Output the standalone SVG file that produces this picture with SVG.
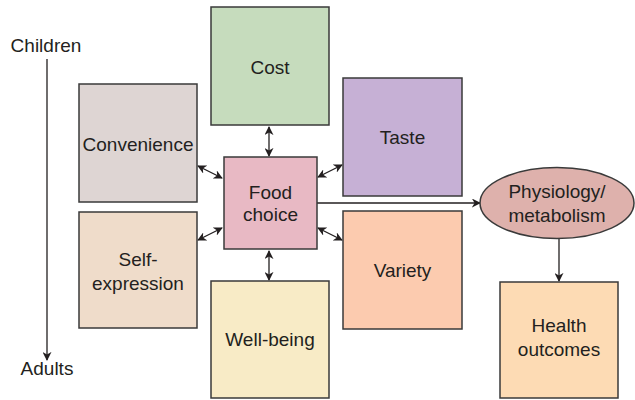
<svg xmlns="http://www.w3.org/2000/svg" width="635" height="400" viewBox="0 0 635 400">
<style>
.box{stroke:#3a3a3a;stroke-width:1.5}
.t{font-family:"Liberation Sans",Arial,sans-serif;font-size:19px;fill:#231f20;text-anchor:middle}
.c{stroke:#231f20;stroke-width:1.3;fill:none}
</style>
<defs>
<marker id="ah" viewBox="0 0 10 10" refX="9" refY="5" markerWidth="9" markerHeight="9" markerUnits="userSpaceOnUse" orient="auto-start-reverse">
<path d="M0,0 L10,5 L0,10 L3,5 Z" fill="#231f20"/>
</marker>
</defs>
<rect width="635" height="400" fill="#ffffff"/>
<text class="t" x="46" y="52">Children</text>
<text class="t" x="47" y="375">Adults</text>
<g id="connectors">
<line class="c" x1="47" y1="59" x2="47" y2="360" marker-end="url(#ah)"/>
<line class="c" x1="269" y1="127" x2="269" y2="156" marker-start="url(#ah)" marker-end="url(#ah)"/>
<line class="c" x1="269" y1="251" x2="269" y2="280" marker-start="url(#ah)" marker-end="url(#ah)"/>
<line class="c" x1="198" y1="166" x2="222" y2="178" marker-start="url(#ah)" marker-end="url(#ah)"/>
<line class="c" x1="318" y1="177" x2="342" y2="165" marker-start="url(#ah)" marker-end="url(#ah)"/>
<line class="c" x1="198" y1="240" x2="222" y2="228" marker-start="url(#ah)" marker-end="url(#ah)"/>
<line class="c" x1="318" y1="228" x2="342" y2="240" marker-start="url(#ah)" marker-end="url(#ah)"/>
<line class="c" x1="317" y1="203" x2="480" y2="203" marker-end="url(#ah)"/>
<line class="c" x1="559" y1="238" x2="559" y2="281" marker-end="url(#ah)"/>
</g>
<g id="cost"><rect class="box" x="211" y="7" width="118" height="118" fill="#c6dcbd"/><text class="t" x="270" y="74">Cost</text></g>
<g id="taste"><rect class="box" x="343" y="78" width="119" height="118" fill="#c6b0d5"/><text class="t" x="402.5" y="144">Taste</text></g>
<g id="convenience"><rect class="box" x="79" y="84" width="118" height="118" fill="#ded5d3"/><text class="t" x="138" y="151">Convenience</text></g>
<g id="food-choice"><rect class="box" x="224" y="157" width="93" height="92" fill="#e8b9c4"/><text class="t" x="270.5" y="199">Food</text><text class="t" x="270.5" y="221">choice</text></g>
<g id="self-expression"><rect class="box" x="79" y="212" width="118" height="116" fill="#efdcca"/><text class="t" x="138" y="266">Self-</text><text class="t" x="138" y="290">expression</text></g>
<g id="variety"><rect class="box" x="343" y="211" width="119" height="118" fill="#fccbaf"/><text class="t" x="402.5" y="277">Variety</text></g>
<g id="well-being"><rect class="box" x="211" y="281" width="118" height="117" fill="#f8ebc6"/><text class="t" x="270" y="346">Well-being</text></g>
<g id="physiology"><ellipse class="box" cx="557" cy="203" rx="77" ry="35.5" fill="#deb1ac"/><text class="t" x="557" y="198">Physiology/</text><text class="t" x="557" y="222">metabolism</text></g>
<g id="health-outcomes"><rect class="box" x="500" y="282" width="118" height="116" fill="#fddbb4"/><text class="t" x="559" y="332">Health</text><text class="t" x="559" y="356">outcomes</text></g>
</svg>
